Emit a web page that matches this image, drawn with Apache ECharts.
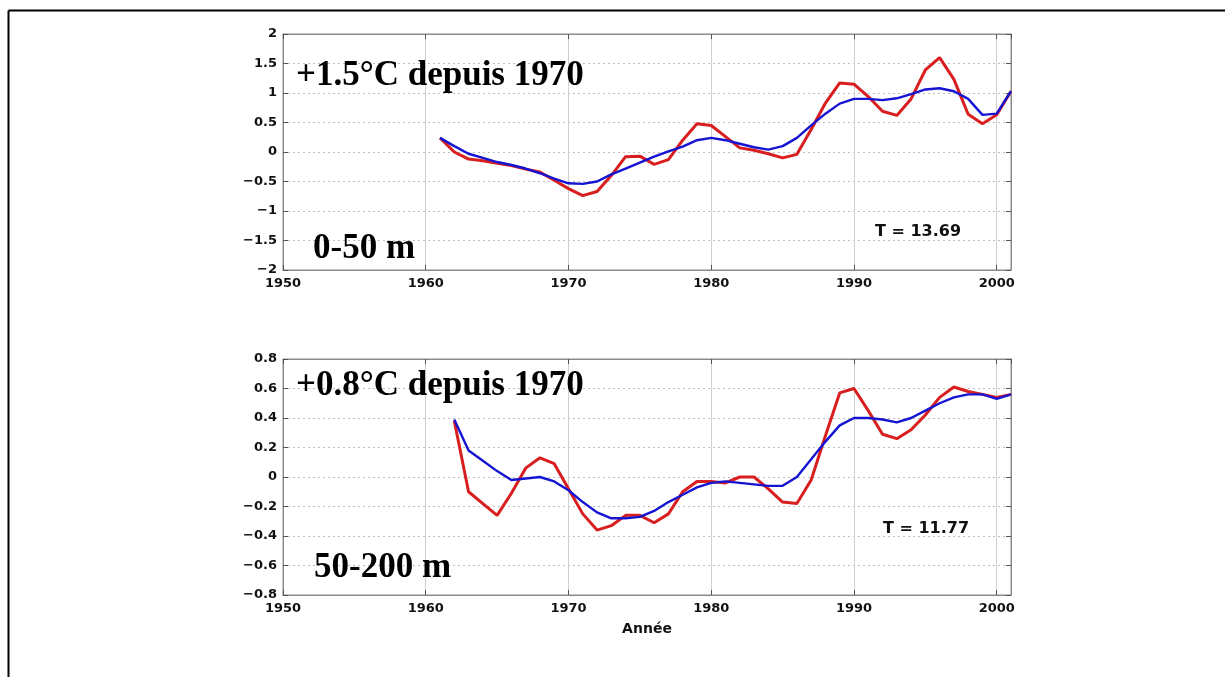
<!DOCTYPE html>
<html>
<head>
<meta charset="utf-8">
<script src="https://cdn.jsdelivr.net/npm/echarts@6/dist/echarts.min.js"></script>
<style>
html,body{margin:0;padding:0;background:#fff;}
#c{width:1225px;height:677px;}
</style>
</head>
<body>
<div id="c"></div>
<script>
// ---- data ----
var yearsTop = [1961,1962,1963,1964,1965,1966,1967,1968,1969,1970,1971,1972,1973,1974,1975,1976,1977,1978,1979,1980,1981,1982,1983,1984,1985,1986,1987,1988,1989,1990,1991,1992,1993,1994,1995,1996,1997,1998,1999,2000,2001];
var redTop = [0.24,0.0,-0.12,-0.15,-0.19,-0.23,-0.29,-0.34,-0.48,-0.62,-0.74,-0.67,-0.4,-0.08,-0.07,-0.21,-0.13,0.2,0.48,0.45,0.26,0.07,0.03,-0.03,-0.1,-0.04,0.38,0.83,1.17,1.15,0.94,0.69,0.62,0.9,1.39,1.6,1.23,0.64,0.48,0.63,1.03];
var blueTop = [0.24,0.1,-0.03,-0.1,-0.17,-0.22,-0.28,-0.36,-0.45,-0.53,-0.54,-0.5,-0.38,-0.28,-0.18,-0.08,0.01,0.09,0.2,0.24,0.2,0.14,0.08,0.04,0.1,0.24,0.45,0.65,0.82,0.9,0.9,0.88,0.91,0.98,1.06,1.08,1.03,0.9,0.63,0.65,1.03];

var yearsBot = [1962,1963,1964,1965,1966,1967,1968,1969,1970,1971,1972,1973,1974,1975,1976,1977,1978,1979,1980,1981,1982,1983,1984,1985,1986,1987,1988,1989,1990,1991,1992,1993,1994,1995,1996,1997,1998,1999,2000,2001];
var redBot = [0.38,-0.1,-0.18,-0.26,-0.11,0.06,0.13,0.09,-0.08,-0.25,-0.36,-0.33,-0.26,-0.26,-0.31,-0.25,-0.1,-0.03,-0.03,-0.04,0.0,0.0,-0.08,-0.17,-0.18,-0.02,0.28,0.57,0.6,0.45,0.29,0.26,0.32,0.42,0.54,0.61,0.58,0.56,0.54,0.56];
var blueBot = [0.39,0.18,0.11,0.04,-0.02,-0.01,0.0,-0.03,-0.09,-0.17,-0.24,-0.28,-0.28,-0.27,-0.23,-0.17,-0.12,-0.07,-0.04,-0.03,-0.04,-0.05,-0.06,-0.06,0.0,0.12,0.24,0.35,0.4,0.4,0.39,0.37,0.4,0.45,0.5,0.54,0.56,0.56,0.53,0.56];

var xMin = 1950, xMax = 2001, xStep = 10;
var topRange = [-2, 2, 0.5];
var botRange = [-0.8, 0.8, 0.2];
var titleTop = '+1.5°C depuis 1970', depthTop = '0-50 m', tTop = 'T = 13.69';
var titleBot = '+0.8°C depuis 1970', depthBot = '50-200 m', tBot = 'T = 11.77';
var xName = 'Année';

function pairs(xs, ys){ return xs.map(function(x,i){ return [x, ys[i]]; }); }

var labelFont = {color:'#111', fontFamily:'DejaVu Sans', fontWeight:'bold', fontSize:13};
function yFmt(v){ var r = parseFloat(Number(v).toFixed(2)); if (r === 0) return '0'; return (r<0?'\u2212':'') + Math.abs(r); }
function xFmt(v){ return (Math.round(v) % xStep === 0) ? String(Math.round(v)) : ''; }

var grids = [
  {left:283, top:34, width:728, height:236, show:true, borderColor:'#8a8a8a', borderWidth:1, backgroundColor:'#fff'},
  {left:283, top:359, width:728, height:236, show:true, borderColor:'#8a8a8a', borderWidth:1, backgroundColor:'#fff'}
];

function mkX(gi, pos, withLabels, name){
  return {
    type:'value', gridIndex:gi, position:pos, min:xMin, max:xMax, interval:xStep,
    axisLine:{show:true, onZero:false, lineStyle:{color:'#8a8a8a'}},
    axisTick:{show:true, inside:true, length:5, lineStyle:{color:'#555'}},
    axisLabel:Object.assign({show:withLabels, formatter:xFmt, margin:7, showMaxLabel:false}, labelFont),
    splitLine:{show:pos==='bottom', lineStyle:{color:'#cfcfcf', width:1, type:'solid'}},
    name: name || '', nameLocation:'middle', nameGap:27,
    nameTextStyle:{color:'#111', fontFamily:'DejaVu Sans', fontWeight:'bold', fontSize:14}
  };
}
function mkY(gi, pos, rng, withLabels){
  return {
    type:'value', gridIndex:gi, position:pos, min:rng[0], max:rng[1], interval:rng[2],
    axisLine:{show:true, onZero:false, lineStyle:{color:'#8a8a8a'}},
    axisTick:{show:true, inside:true, length:5, lineStyle:{color:'#555'}},
    axisLabel:Object.assign({show:withLabels, formatter:yFmt, margin:6}, labelFont),
    splitLine:{show:pos==='left', lineStyle:{color:'#bdbdbd', width:1, type:[2,3]}}
  };
}

var redColor = '#d81e1e', blueColor = '#1414d2';
function line(xi, yi, data, color, w, z){
  return {type:'line', xAxisIndex:xi, yAxisIndex:yi, data:data, showSymbol:false, symbol:'none',
    lineStyle:{color:color, width:w}, z:z, animation:false};
}

var bigFont = 'bold 35px "Liberation Serif"';
var tFont = 'bold 16px "DejaVu Sans"';

var option = {
  backgroundColor:'#fff',
  animation:false,
  grid: grids,
  xAxis: [mkX(0,'bottom',true), mkX(0,'top',false), mkX(1,'bottom',true,xName), mkX(1,'top',false)],
  yAxis: [mkY(0,'left',topRange,true), mkY(0,'right',topRange,false), mkY(1,'left',botRange,true), mkY(1,'right',botRange,false)],
  series: [
    line(0,0,pairs(yearsTop,redTop),redColor,3,3),
    line(0,0,pairs(yearsTop,blueTop),blueColor,2.4,4),
    line(2,2,pairs(yearsBot,redBot),redColor,3,3),
    line(2,2,pairs(yearsBot,blueBot),blueColor,2.4,4)
  ],
  graphic: [
    {type:'line', shape:{x1:8.5,y1:10.5,x2:1225,y2:10.5}, style:{stroke:'#000', lineWidth:2}, z:100},
    {type:'line', shape:{x1:8.5,y1:10.5,x2:8.5,y2:677}, style:{stroke:'#000', lineWidth:2}, z:100},
    {type:'text', left:296, top:58, style:{text:titleTop, font:bigFont, fill:'#000'}, z:100},
    {type:'text', left:313, top:231, style:{text:depthTop, font:bigFont, fill:'#000'}, z:100},
    {type:'text', left:875, top:224, style:{text:tTop, font:tFont, fill:'#111'}, z:100},
    {type:'text', left:296, top:368, style:{text:titleBot, font:bigFont, fill:'#000'}, z:100},
    {type:'text', left:314, top:550, style:{text:depthBot, font:bigFont, fill:'#000'}, z:100},
    {type:'text', left:883, top:521, style:{text:tBot, font:tFont, fill:'#111'}, z:100}
  ]
};
var chart = echarts.init(document.getElementById('c'), null, {renderer:'canvas'});
chart.setOption(option);
</script>
</body>
</html>
